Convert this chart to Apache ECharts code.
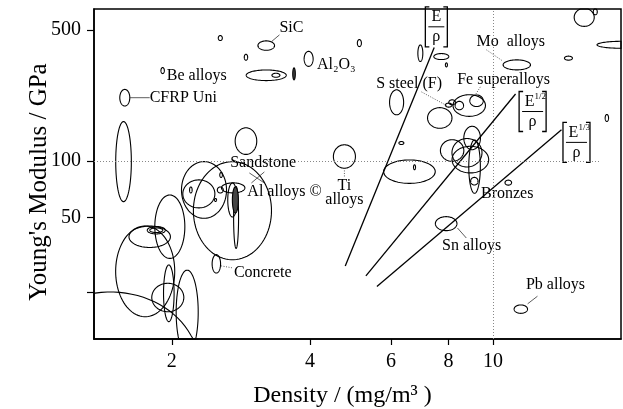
<!DOCTYPE html>
<html>
<head>
<meta charset="utf-8">
<script src="https://cdn.jsdelivr.net/npm/echarts@6/dist/echarts.min.js"></script>
<style>
html, body { margin: 0; padding: 0; background: #fff; }
#main { width: 623px; height: 409px; }
</style>
</head>
<body>
<div id="main"></div>
<script>
// material property bubbles: centre density (mg/m3), centre modulus (GPa),
// half-spread of each bubble in decades (log10) along density and modulus
var bubbleDensity = [2.55, 3.21, 2.90, 1.91, 3.97, 5.12, 3.21, 3.37, 3.69, 1.58,
    1.57, 2.90, 4.75, 2.35, 2.29, 2.71, 2.56, 2.20, 2.55, 2.49,
    2.72, 2.71, 2.76, 2.75, 2.50, 1.98, 1.79, 1.85, 1.85, 1.75,
    1.96, 1.97, 2.16, 1.47,
    6.95, 7.72, 7.92, 11.27, 15.8, 16.7, 14.6, 19.1, 17.7, 8.88,
    8.01, 8.15, 8.45, 9.21, 6.17, 7.66, 6.32, 9.01, 8.15, 8.78,
    8.93, 9.12, 9.11, 6.58, 6.75, 10.8, 7.91, 11.5];
var bubbleModulus = [453, 413, 358, 304, 351, 426, 287, 287, 292, 218,
    99.5, 128, 106, 70.3, 67.0, 54.5, 84.5, 70.3, 70.3, 62.2,
    72.1, 62.2, 50.2, 62.2, 28.4, 44.8, 39.6, 42.9, 42.9, 25.9,
    18.8, 19.8, 15.7, 8.21,
    376, 361, 326, 326, 584, 625, 354, 417, 170, 198,
    199, 206, 198, 210, 206, 170, 125, 133, 114, 111,
    102, 93.6, 78.3, 88.0, 92.9, 76.9, 46.5, 16.3];
var bubbleDensitySpread = [0.0044, 0.0181, 0.0037, 0.0037, 0.0098, 0.0044, 0.0436, 0.0087, 0.0028, 0.0109,
    0.017, 0.0235, 0.024, 0.049, 0.0349, 0.085, 0.0028, 0.0028, 0.0065, 0.0022,
    0.0255, 0.0102, 0.0054, 0.0065, 0.0092, 0.0327, 0.0451, 0.0196, 0.0142, 0.0643,
    0.0349, 0.0115, 0.024, 0.1917,
    0.0054, 0.0163, 0.0022, 0.0298, 0.0218, 0.0044, 0.0087, 0.0545, 0.0037, 0.0353,
    0.0072, 0.0072, 0.0092, 0.0146, 0.0153, 0.0266, 0.0054, 0.0181, 0.0255, 0.0327,
    0.0399, 0.0126, 0.0081, 0.0562, 0.0022, 0.0072, 0.0235, 0.0146];
var bubbleModulusSpread = [0.0133, 0.0251, 0.016, 0.016, 0.04, 0.0187, 0.0283, 0.0107, 0.032, 0.0442,
    0.2132, 0.0709, 0.0624, 0.1509, 0.0746, 0.2612, 0.0133, 0.016, 0.016, 0.008,
    0.0267, 0.0906, 0.1652, 0.0693, 0.049, 0.169, 0.057, 0.0197, 0.0123, 0.2415,
    0.0757, 0.1509, 0.2239, 0.3891,
    0.0442, 0.016, 0.0107, 0.0267, 0.048, 0.016, 0.0107, 0.0187, 0.0187, 0.0576,
    0.0107, 0.0133, 0.0224, 0.0309, 0.0666, 0.0549, 0.008, 0.0624, 0.0576, 0.0757,
    0.0709, 0.1423, 0.0203, 0.0624, 0.0133, 0.0133, 0.0373, 0.0224];
var darkBubbles = [8, 23];

// material names
var labelText = ['SiC', 'Al\u2082O\u2083', 'Be alloys', 'CFRP Uni', 'Sandstone', 'Al alloys \u00a9', 'Ti\nalloys',
    'Concrete', 'Mo  alloys', 'S steel (F)', 'Fe superalloys', 'Bronzes', 'Sn alloys', 'Pb alloys'];
var labelDensity = [3.43, 4.14, 1.95, 1.79, 2.68, 2.92, 4.75, 2.73, 9.21, 5.57, 8.36, 9.42, 7.75, 11.8];
var labelModulus = [513, 326, 285, 218, 97.9, 68.9, 67.5, 25.5, 434, 257, 271, 66.7, 35.4, 21.9];

// leader lines from bubble to name
var leaderDensity = [[3.29, 3.43], [1.62, 1.79], [9.68, 10.5], [6.99, 7.96], [9.39, 9.16], [4.75, 4.75],
    [2.56, 2.72], [8.37, 8.75], [11.9, 12.5], [2.95, 3.18], [3.18, 2.98]];
var leaderModulus = [[432, 471], [218, 218], [392, 342], [234, 197], [249, 226], [92.1, 81.5],
    [27.7, 27.0], [44.1, 39.0], [17.4, 19.1], [86.6, 76.6], [87.7, 76.6]];
var dottedLeaders = [2, 3, 4, 5, 6];

// selection guide lines E/rho, E^1/2/rho, E^1/3/rho
var guideDensity = [[4.77, 7.45], [5.29, 11.2], [5.59, 14.1]];
var guideModulus = [[27.7, 403], [24.5, 228], [21.5, 147]];
var guidePower = ['', '1/2', '1/3'];
var guideLabelDensity = [7.53, 12.2, 15.2];
var guideLabelModulus = [520, 184, 126];

var densityTicks = [2, 4, 6, 8, 10];
var modulusTicks = [20, 50, 100, 500];
var modulusLabels = [50, 100, 500];

var lg = Math.log10;
var serif = '"Liberation Serif", "DejaVu Serif", serif';

var myChart = echarts.init(document.getElementById('main'));

var series = [];

// bubbles
series.push({
    type: 'custom',
    silent: true,
    data: bubbleDensity.map(function (d, i) {
        return [lg(d), lg(bubbleModulus[i]), bubbleDensitySpread[i], bubbleModulusSpread[i], i];
    }),
    renderItem: function (params, api) {
        var x = api.value(0), y = api.value(1), sx = api.value(2), sy = api.value(3);
        var pts = [];
        for (var k = 0; k < 90; k++) {
            var t = k / 90 * 2 * Math.PI;
            pts.push(api.coord([x + sx * Math.cos(t), y + sy * Math.sin(t)]));
        }
        var cs = params.coordSys;
        pts = echarts.graphic.clipPointsByRect(pts, { x: cs.x, y: cs.y, width: cs.width, height: cs.height });
        var dark = darkBubbles.indexOf(api.value(4)) >= 0;
        return {
            type: 'polygon',
            shape: { points: pts },
            style: { fill: dark ? '#444' : 'none', stroke: '#000', lineWidth: 1.1 }
        };
    },
    markLine: {
        silent: true,
        symbol: 'none',
        label: { show: false },
        lineStyle: { color: '#888', type: [1, 2], width: 1 },
        data: [{ xAxis: lg(10) }, [{ coord: [lg(1.354), lg(100)] }, { coord: [lg(17.1), lg(100)] }]]
    }
});

// guide lines
for (var g = 0; g < guideDensity.length; g++) {
    series.push({
        type: 'line',
        symbol: 'none',
        silent: true,
        lineStyle: { color: '#000', width: 1.3 },
        data: [[lg(guideDensity[g][0]), lg(guideModulus[g][0])], [lg(guideDensity[g][1]), lg(guideModulus[g][1])]]
    });
}

// leaders
for (var l = 0; l < leaderDensity.length; l++) {
    series.push({
        type: 'line',
        symbol: 'none',
        silent: true,
        lineStyle: { color: '#333', width: 0.8, type: dottedLeaders.indexOf(l) >= 0 ? [1, 1.5] : 'solid' },
        data: [[lg(leaderDensity[l][0]), lg(leaderModulus[l][0])], [lg(leaderDensity[l][1]), lg(leaderModulus[l][1])]]
    });
}

// material names
series.push({
    type: 'custom',
    silent: true,
    data: labelDensity.map(function (d, i) { return [lg(d), lg(labelModulus[i]), i]; }),
    renderItem: function (params, api) {
        var c = api.coord([api.value(0), api.value(1)]);
        var txt = labelText[api.value(2)];
        var centred = txt.indexOf('\n') >= 0;
        return {
            type: 'text',
            x: c[0], y: c[1],
            style: {
                text: txt, font: '16px ' + serif, fill: '#000',
                align: centred ? 'center' : 'left', verticalAlign: 'middle', lineHeight: 14
            }
        };
    }
});

// bracket labels for the guide lines
series.push({
    type: 'custom',
    silent: true,
    data: guideLabelDensity.map(function (d, i) { return [lg(d), lg(guideLabelModulus[i]), i]; }),
    renderItem: function (params, api) {
        var c = api.coord([api.value(0), api.value(1)]);
        var p = guidePower[api.value(2)];
        var w = p ? 27 : 22, h = 40;
        var kids = [
            { type: 'polyline', shape: { points: [[-w / 2 + 4, -h / 2], [-w / 2, -h / 2], [-w / 2, h / 2], [-w / 2 + 4, h / 2]] },
              style: { stroke: '#000', fill: 'none', lineWidth: 1.3 } },
            { type: 'polyline', shape: { points: [[w / 2 - 4, -h / 2], [w / 2, -h / 2], [w / 2, h / 2], [w / 2 - 4, h / 2]] },
              style: { stroke: '#000', fill: 'none', lineWidth: 1.3 } },
            { type: 'line', shape: { x1: -w / 2 + 3, y1: 0, x2: w / 2 - 3, y2: 0 }, style: { stroke: '#000', lineWidth: 1 } },
            { type: 'text', x: p ? -3 : 0, y: -10, style: { text: 'E', font: '16px ' + serif, fill: '#000', align: 'center', verticalAlign: 'middle' } },
            { type: 'text', x: 0, y: 10, style: { text: '\u03c1', font: '16px ' + serif, fill: '#000', align: 'center', verticalAlign: 'middle' } }
        ];
        if (p) {
            kids.push({ type: 'text', x: 2, y: -15, style: { text: p, font: '9px ' + serif, fill: '#000', align: 'left', verticalAlign: 'middle' } });
        }
        return { type: 'group', x: c[0], y: c[1], children: kids };
    }
});

var option = {
    animation: false,
    backgroundColor: '#fff',
    grid: {
        left: 94, right: 2, top: 9, bottom: 70,
        show: true, borderColor: '#000', borderWidth: 1.5,
        containLabel: false, outerBoundsMode: 'none'
    },
    xAxis: {
        type: 'value',
        min: lg(1.354), max: lg(19.0),
        axisLine: { show: true, onZero: false, lineStyle: { color: '#000', width: 1.5 } },
        axisTick: { show: true, customValues: densityTicks.map(lg), length: 6, lineStyle: { color: '#000', width: 1.2 } },
        axisLabel: {
            customValues: densityTicks.map(lg),
            formatter: function (v) { return Math.round(Math.pow(10, v)); },
            color: '#000', fontSize: 20, fontFamily: serif, margin: 13
        },
        splitLine: { show: false },
        name: 'Density / (mg/m\u00b3 )',
        nameLocation: 'middle', nameGap: 45, nameMoveOverlap: false,
        nameTextStyle: { color: '#000', fontSize: 24, fontFamily: serif, padding: [0, 30, 0, 0] }
    },
    yAxis: {
        type: 'value',
        min: lg(11.3), max: lg(647),
        axisLine: { show: true, onZero: false, lineStyle: { color: '#000', width: 1.5 } },
        axisTick: { show: true, customValues: modulusTicks.map(lg), length: 7, lineStyle: { color: '#000', width: 1.2 } },
        axisLabel: {
            customValues: modulusLabels.map(lg),
            formatter: function (v) { return Math.round(Math.pow(10, v)); },
            color: '#000', fontSize: 20, fontFamily: serif, margin: 13
        },
        splitLine: { show: false },
        name: "Young's Modulus / GPa",
        nameLocation: 'middle', nameGap: 42, nameMoveOverlap: false,
        nameTextStyle: { color: '#000', fontSize: 25, fontFamily: serif, padding: [0, 16, 0, 0] }
    },
    series: series
};

myChart.setOption(option);
</script>
</body>
</html>
